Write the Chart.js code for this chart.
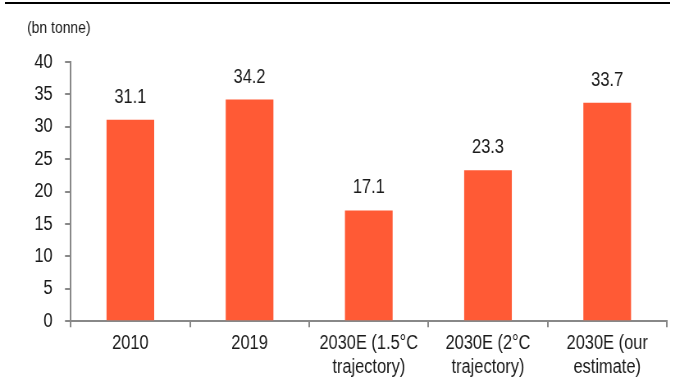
<!DOCTYPE html>
<html>
<head>
<meta charset="utf-8">
<script src="https://cdn.jsdelivr.net/npm/chart.js@4/dist/chart.umd.min.js"></script>
<style>
  html, body { margin: 0; padding: 0; background: #fff; }
  #wrap { position: relative; width: 675px; height: 387px; overflow: hidden; }
  #rule { position: absolute; left: 5px; right: 5px; top: 2px; height: 2px; background: #000; }
  #emissionsChart { display: block; }
</style>
</head>
<body>
<div id="wrap">
  <div id="rule"></div>
  <!-- drawn wide and squeezed to 675px so the sans text reads as a narrow face -->
  <canvas id="emissionsChart" width="823" height="387" style="width:675px;height:387px"></canvas>
</div>
<script>
'use strict';
var categories = [
    '2010',
    '2019',
    ['2030E (1.5°C', 'trajectory)'],
    ['2030E (2°C', 'trajectory)'],
    ['2030E (our', 'estimate)']
];
var emissions = [31.1, 34.2, 17.1, 23.3, 33.7];
var yTicks = [0, 5, 10, 15, 20, 25, 30, 35, 40];
var unitLabel = '(bn tonne)';

var FONT = '"Liberation Sans", Arial, sans-serif';
var axisGrey = '#888888';
var SQ = 0.82; // horizontal squeeze of the canvas

// value above each bar + unit caption in the corner
var barLabels = {
    id: 'barLabels',
    afterDatasetsDraw: function (chart) {
        var ctx = chart.ctx;
        var meta = chart.getDatasetMeta(0);
        ctx.save();
        ctx.font = '20px ' + FONT;
        ctx.fillStyle = '#1a1a1a';
        ctx.textAlign = 'center';
        ctx.textBaseline = 'alphabetic';
        meta.data.forEach(function (bar, i) {
            ctx.fillText(emissions[i].toFixed(1), bar.x, bar.y - 17);
        });
        ctx.font = '17px ' + FONT;
        ctx.textAlign = 'left';
        ctx.fillText(unitLabel, 27 / SQ, 33);
        ctx.restore();
    }
};

var ctx = document.getElementById('emissionsChart');
var chart = new Chart(ctx, {
    type: 'bar',
    data: {
        labels: categories,
        datasets: [{
            data: emissions,
            backgroundColor: '#FF5A35',
            borderWidth: 0,
            categoryPercentage: 1,
            barPercentage: 0.4
        }]
    },
    options: {
        responsive: false,
        animation: false,
        layout: { padding: { left: 27, right: 10, top: 62, bottom: 3 } },
        plugins: {
            legend: { display: false },
            tooltip: { enabled: false }
        },
        scales: {
            x: {
                grid: {
                    offset: true,
                    drawOnChartArea: false,
                    drawTicks: true,
                    tickLength: 6,
                    color: axisGrey,
                    lineWidth: 2
                },
                border: { color: axisGrey, width: 2 },
                ticks: {
                    color: '#1a1a1a',
                    padding: 4,
                    maxRotation: 0,
                    autoSkip: false,
                    font: { family: FONT, size: 20, lineHeight: 1.22 }
                }
            },
            y: {
                min: 0,
                max: 40,
                afterBuildTicks: function (scale) {
                    scale.ticks = yTicks.map(function (v) { return { value: v }; });
                },
                grid: {
                    drawOnChartArea: false,
                    drawTicks: true,
                    tickLength: 7,
                    color: axisGrey,
                    lineWidth: 2
                },
                border: { color: axisGrey, width: 2 },
                ticks: {
                    color: '#1a1a1a',
                    padding: 15,
                    font: { family: FONT, size: 20 }
                }
            }
        }
    },
    plugins: [barLabels]
});
</script>
</body>
</html>
